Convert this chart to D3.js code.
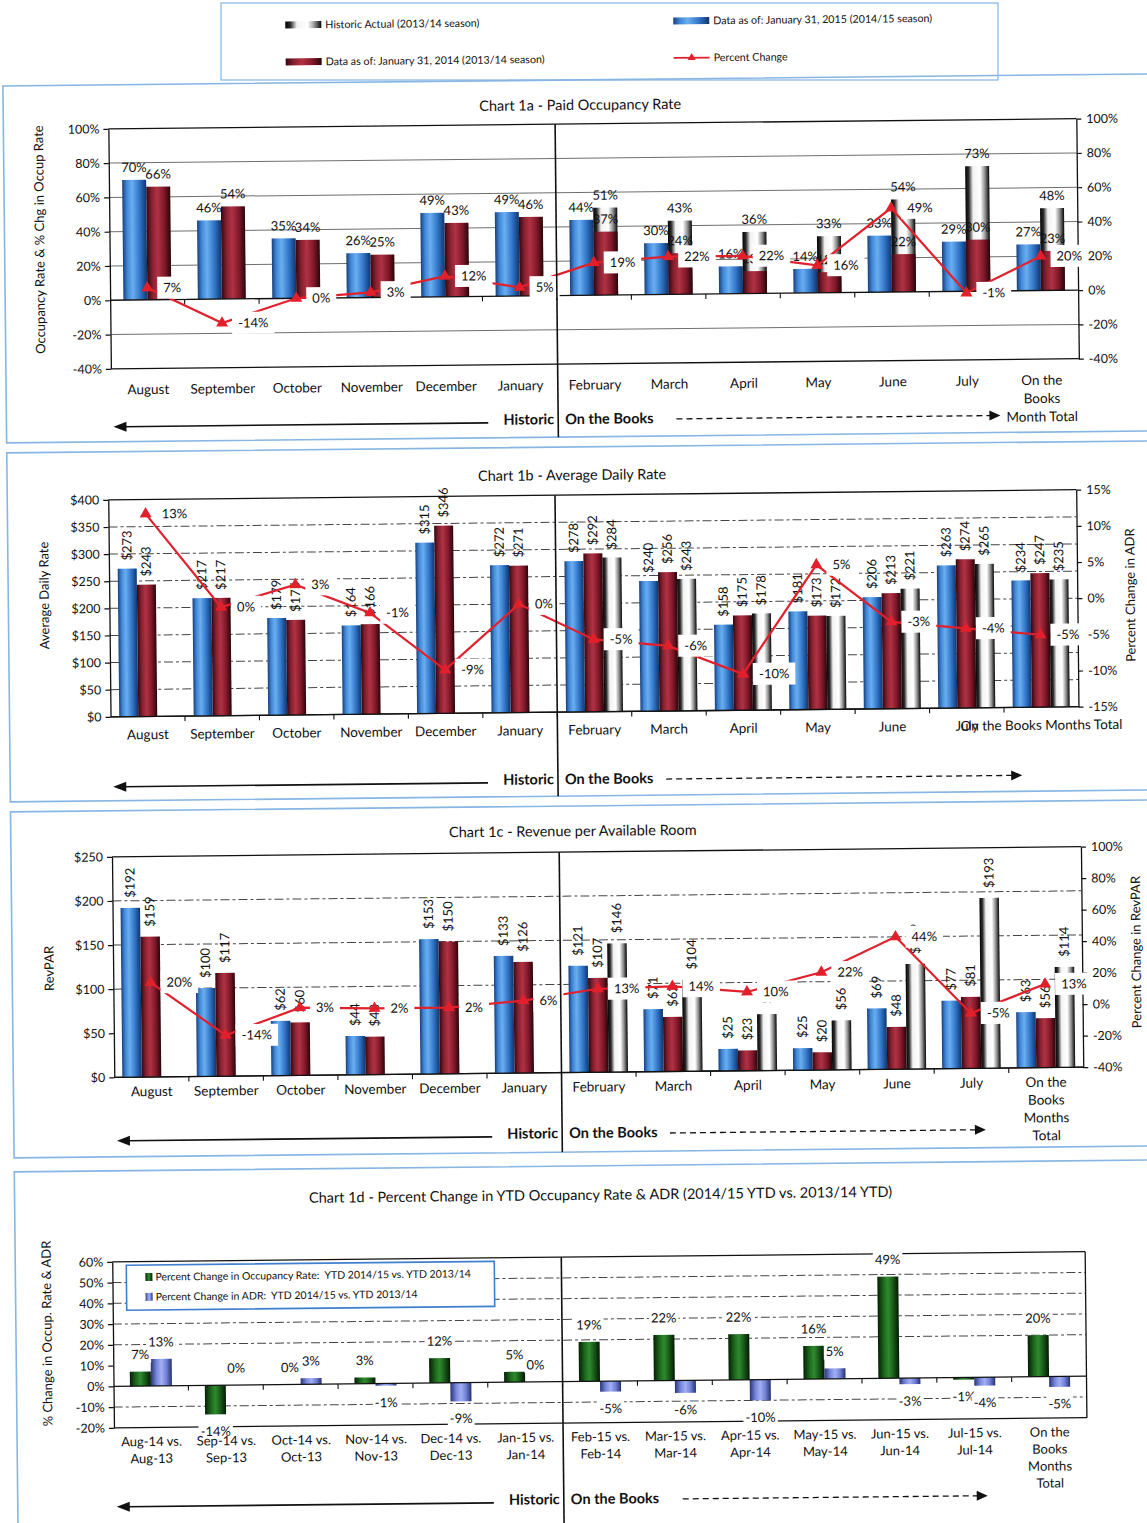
<!DOCTYPE html>
<html>
<head>
<meta charset="utf-8">
<script src="https://cdn.jsdelivr.net/npm/d3@7"></script>
<style>
  html, body { margin: 0; padding: 0; background: #fff; }
  svg { display: block; }
</style>
</head>
<body>
<svg id="chart" width="1147" height="1523"></svg>
<script>
// ---------------- data ----------------
const months = ["August", "September", "October", "November", "December", "January",
                "February", "March", "April", "May", "June", "July"];
const occLabels = [...months.map(m => [m]), ["On the", "Books", "Month Total"]];
const adrLabels = [...months.map(m => [m]), ["On the Books Months Total"]];
const revLabels = [...months.map(m => [m]), ["On the", "Books", "Months", "Total"]];
const ytdLabels = [["Aug-14 vs.", "Aug-13"], ["Sep-14 vs.", "Sep-13"], ["Oct-14 vs.", "Oct-13"],
                   ["Nov-14 vs.", "Nov-13"], ["Dec-14 vs.", "Dec-13"], ["Jan-15 vs.", "Jan-14"],
                   ["Feb-15 vs.", "Feb-14"], ["Mar-15 vs.", "Mar-14"], ["Apr-15 vs.", "Apr-14"],
                   ["May-15 vs.", "May-14"], ["Jun-15 vs.", "Jun-14"], ["Jul-15 vs.", "Jul-14"],
                   ["On the", "Books", "Months", "Total"]];

// Chart 1a - paid occupancy (%)
const occ2015 = [70, 46, 35, 26, 49, 49, 44, 30, 16, 14, 33, 29, 27];
const occ2014 = [66, 54, 34, 25, 43, 46, 37, 24, 13, 12, 22, 30, 23];
const occHist = [null, null, null, null, null, null, 51, 43, 36, 33, 54, 73, 48];
const occChg  = [7, -14, 0, 3, 12, 5, 19, 22, 22, 16, 49, -1, 20];

// Chart 1b - average daily rate ($)
const adr2015 = [273, 217, 179, 164, 315, 272, 278, 240, 158, 181, 206, 263, 234];
const adr2014 = [243, 217, 175, 166, 346, 271, 292, 256, 175, 173, 213, 274, 247];
const adrHist = [null, null, null, null, null, null, 284, 243, 178, 172, 221, 265, 235];
const adrChg  = [13, 0, 3, -1, -9, 0, -5, -6, -10, 5, -3, -4, -5];

// Chart 1c - revenue per available room ($)
const rev2015 = [192, 100, 62, 44, 153, 133, 121, 71, 25, 25, 69, 77, 63];
const rev2014 = [159, 117, 60, 43, 150, 126, 107, 62, 23, 20, 48, 81, 56];
const revHist = [null, null, null, null, null, null, 146, 104, 64, 56, 119, 193, 114];
const revChg  = [20, -14, 3, 2, 2, 6, 13, 14, 10, 22, 44, -5, 13];

// Chart 1d - YTD percent change
const ytdOccChg = [7, -14, 0, 3, 12, 5, 19, 22, 22, 16, 49, -1, 20];
const ytdAdrChg = [13, 0, 3, -1, -9, 0, -5, -6, -10, 5, -3, -4, -5];

// axis ticks
const occTicks    = [-40, -20, 0, 20, 40, 60, 80, 100];
const adrTicks    = [0, 50, 100, 150, 200, 250, 300, 350, 400];
const adrPctTicks = [-15, -10, -5, 0, 5, 10, 15];
const revTicks    = [0, 50, 100, 150, 200, 250];
const revPctTicks = [-40, -20, 0, 20, 40, 60, 80, 100];
const ytdTicks    = [-20, -10, 0, 10, 20, 30, 40, 50, 60];

// text
const legendLabels = ["Historic Actual (2013/14 season)",
                      "Data as of: January 31, 2015 (2014/15 season)",
                      "Data as of: January 31, 2014 (2013/14 season)",
                      "Percent Change"];
const ytdLegendLabels = ["Percent Change in Occupancy Rate:  YTD 2014/15 vs. YTD 2013/14",
                         "Percent Change in ADR:  YTD 2014/15 vs. YTD 2013/14"];
const chartTitles = ["Chart 1a - Paid Occupancy Rate",
                     "Chart 1b - Average Daily Rate",
                     "Chart 1c - Revenue per Available Room",
                     "Chart 1d - Percent Change in YTD Occupancy Rate & ADR (2014/15 YTD vs. 2013/14 YTD)"];
const sectionLabels = ["Historic", "On the Books"];

// ---------------- setup ----------------
const FONT = "Lato, 'Open Sans', 'DejaVu Sans', sans-serif";
const INK = "#111";
const RED = "#e1202b";
const pct = d => d + "%";
const usd = d => "$" + d;

const svg = d3.select("#chart").attr("font-family", FONT);
svg.append("rect").attr("width", 1147).attr("height", 1523).attr("fill", "#fff");

const defs = svg.append("defs");
function hGrad(id, stops) {
  const g = defs.append("linearGradient").attr("id", id)
    .attr("x1", "0%").attr("x2", "100%").attr("y1", "0%").attr("y2", "0%");
  stops.forEach(([o, c]) => g.append("stop").attr("offset", o).attr("stop-color", c));
}
hGrad("gBlue",   [[0, "#173f7c"], [0.18, "#3f86d6"], [0.4, "#6aaef0"], [0.72, "#2f73c6"], [1, "#12356b"]]);
hGrad("gRed",    [[0, "#330710"], [0.22, "#86202f"], [0.45, "#b03244"], [0.75, "#7d1828"], [1, "#290508"]]);
hGrad("gWhite",  [[0, "#050505"], [0.14, "#2a2a2a"], [0.32, "#f2f2f2"], [0.62, "#ffffff"], [0.82, "#8c8c8c"], [1, "#050505"]]);
hGrad("gGreen",  [[0, "#041f04"], [0.28, "#1c661c"], [0.5, "#2f8a2f"], [0.75, "#185618"], [1, "#031903"]]);
hGrad("gPurple", [[0, "#2a3478"], [0.28, "#7888dc"], [0.5, "#a2aff4"], [0.75, "#6f7fd4"], [1, "#26306e"]]);

// legend frame sits level on the page
svg.append("rect").attr("x", 221).attr("y", 3).attr("width", 777).attr("height", 77)
  .attr("fill", "none").attr("stroke", "#8dbbe6").attr("stroke-width", 1.3);

// everything else is drawn slightly tilted, like the printed page
const root = svg.append("g").attr("transform", "rotate(-0.6 573 760)");

// panel frames
[[80, 437], [447, 796], [806, 1152], [1166, 1560]].forEach(([a, b]) => {
  root.append("rect").attr("x", 10).attr("y", a).attr("width", 1170).attr("height", b - a)
    .attr("fill", "none").attr("stroke", "#86b6e4").attr("stroke-width", 1.6);
});

// top legend
(function legend() {
  const g = root.append("g").attr("font-size", 10.7).attr("fill", INK);
  const items = [
    { grad: "gWhite", x: 293, y: 22, label: legendLabels[0] },
    { grad: "gBlue",  x: 681, y: 22, label: legendLabels[1] },
    { grad: "gRed",   x: 293, y: 59, label: legendLabels[2] },
    { grad: null,     x: 681, y: 59, label: legendLabels[3] }
  ];
  items.forEach(it => {
    if (it.grad) {
      g.append("rect").attr("x", it.x).attr("y", it.y - 3.5).attr("width", 36).attr("height", 7)
        .attr("fill", `url(#${it.grad})`);
    } else {
      g.append("line").attr("x1", it.x).attr("x2", it.x + 36).attr("y1", it.y).attr("y2", it.y)
        .attr("stroke", RED).attr("stroke-width", 1.8);
      g.append("path").attr("d", d3.symbol(d3.symbolTriangle, 28))
        .attr("transform", `translate(${it.x + 18},${it.y})`).attr("fill", RED);
    }
    g.append("text").attr("x", it.x + 40).attr("y", it.y).attr("dy", "0.35em").text(it.label);
  });
})();

// shared bottom annotation: Historic <---- | On the Books - - - ->
function sectionRow(g, o, divX) {
  const ay = o.arrowY;
  g.append("text").attr("x", divX - 4).attr("y", ay).attr("dy", "0.35em")
    .attr("text-anchor", "end").attr("font-size", 14.5).attr("font-weight", 700).attr("fill", INK)
    .text(sectionLabels[0]);
  g.append("text").attr("x", divX + 7).attr("y", ay).attr("dy", "0.35em")
    .attr("font-size", 14.5).attr("font-weight", 700).attr("fill", INK)
    .text(sectionLabels[1]);
  const sx = o.x0 + 2, ex = divX - 70, sy = ay + 3;
  g.append("line").attr("x1", sx + 10).attr("x2", ex).attr("y1", sy).attr("y2", sy)
    .attr("stroke", "#111").attr("stroke-width", 1.6);
  g.append("path").attr("d", `M${sx},${sy} L${sx + 13},${sy - 5} L${sx + 13},${sy + 5} Z`).attr("fill", "#111");
  const dx0 = o.dashX0, dx1 = o.dashX1, dy = ay + 1;
  g.append("line").attr("x1", dx0).attr("x2", dx1 - 10).attr("y1", dy).attr("y2", dy)
    .attr("stroke", "#111").attr("stroke-width", 1.3).attr("stroke-dasharray", "6,4");
  g.append("path").attr("d", `M${dx1},${dy} L${dx1 - 11},${dy - 5} L${dx1 - 11},${dy + 5} Z`).attr("fill", "#111");
}

function yTitle(g, x, y, text) {
  g.append("text").attr("transform", `translate(${x},${y}) rotate(-90)`)
    .attr("text-anchor", "middle").attr("dy", "0.35em")
    .attr("font-size", 13).attr("fill", INK).text(text);
}

function styleAxis(sel, size) {
  sel.attr("font-family", FONT).attr("font-size", size);
  sel.selectAll("text").attr("fill", INK);
  sel.selectAll("line").attr("stroke", "#111").attr("stroke-width", 1.2);
  sel.select(".domain").attr("stroke", "#111").attr("stroke-width", 1.3);
}

// ---------------- combined bar + percent-change chart ----------------
function comboChart(o) {
  const g = root.append("g");
  const n = o.labels.length;
  const x = d3.scaleBand().domain(d3.range(n)).range([o.x0, o.x1]);
  const cx = i => x(i) + x.bandwidth() / 2;
  const yL = d3.scaleLinear().domain(o.leftDomain).range([o.bottom, o.top]);
  const yR = d3.scaleLinear().domain(o.rightDomain).range([o.bottom, o.top]);
  const axisY = yL(0);
  const divX = x(6);

  g.append("text").attr("x", o.titleX).attr("y", o.titleY).attr("dy", "0.35em")
    .attr("text-anchor", "middle").attr("font-size", 14.5).attr("fill", INK).text(o.title);

  // gridlines
  g.append("g").selectAll("line").data(o.grid).join("line")
    .attr("x1", o.x0).attr("x2", o.x1)
    .attr("y1", d => yL(d)).attr("y2", d => yL(d))
    .attr("stroke", o.gridDash ? "#444" : "#6f6f6f").attr("stroke-width", 1)
    .attr("stroke-dasharray", o.gridDash || null);

  // plot frame
  const fr = g.append("g").attr("stroke", "#111").attr("stroke-width", 1.3);
  fr.append("line").attr("x1", o.x0).attr("x2", o.x1).attr("y1", o.top).attr("y2", o.top);
  fr.append("line").attr("x1", o.x0).attr("x2", o.x1).attr("y1", o.bottom).attr("y2", o.bottom);

  // bars (historic behind, then 2013/14, then 2014/15)
  o.series.forEach(s => {
    g.append("g").selectAll("rect")
      .data(s.values.map((v, i) => ({ v, i })).filter(d => d.v != null))
      .join("rect")
      .attr("x", d => cx(d.i) + s.offset)
      .attr("width", o.barW)
      .attr("y", d => Math.min(yL(d.v), axisY))
      .attr("height", d => Math.abs(yL(d.v) - axisY))
      .attr("fill", `url(#${s.grad})`);
  });

  // category axis line with boundary ticks
  g.append("line").attr("x1", o.x0).attr("x2", o.x1).attr("y1", axisY).attr("y2", axisY)
    .attr("stroke", "#111").attr("stroke-width", 1.3);
  g.append("g").selectAll("line").data(d3.range(1, n)).join("line")
    .attr("x1", i => x(i)).attr("x2", i => x(i)).attr("y1", axisY).attr("y2", axisY + 5)
    .attr("stroke", "#111").attr("stroke-width", 1.1);

  // value axes
  styleAxis(g.append("g").attr("transform", `translate(${o.x0},0)`)
    .call(d3.axisLeft(yL).tickValues(o.leftTicks).tickFormat(o.leftFmt)
      .tickSize(5).tickSizeOuter(0).tickPadding(4)), 12.5);
  styleAxis(g.append("g").attr("transform", `translate(${o.x1},0)`)
    .call(d3.axisRight(yR).tickValues(o.rightTicks).tickFormat(pct)
      .tickSize(5).tickSizeOuter(0).tickPadding(5)), 12.5);

  // value labels
  o.series.forEach(s => {
    const pts = s.values.map((v, i) => ({ v, i })).filter(d => d.v != null);
    const t = g.append("g").attr("font-size", 13).attr("fill", INK)
      .selectAll("text").data(pts).join("text").text(d => o.valueFmt(d.v));
    if (o.vertical) {
      t.attr("transform", d =>
        `translate(${cx(d.i) + s.offset + o.barW / 2 + 4.5},${yL(d.v) - o.labelGap}) rotate(-90)`);
    } else {
      t.attr("x", d => cx(d.i) + s.offset + o.barW / 2)
        .attr("y", d => yL(d.v) - 8).attr("text-anchor", "middle");
    }
  });

  // percent change line
  const line = d3.line().x((d, i) => cx(i)).y(d => yR(d));
  g.append("path").datum(o.change).attr("d", line)
    .attr("fill", "none").attr("stroke", RED).attr("stroke-width", 2.2);
  g.append("g").selectAll("path").data(o.change).join("path")
    .attr("d", d3.symbol(d3.symbolTriangle, 62))
    .attr("transform", (d, i) => `translate(${cx(i)},${yR(d)})`)
    .attr("fill", RED);

  // percent change labels on white boxes
  const lab = g.append("g").attr("font-size", 13).attr("fill", INK);
  o.change.forEach((d, i) => {
    const lg = lab.append("g");
    const r = lg.append("rect").attr("fill", "#fff");
    const t = lg.append("text").attr("x", cx(i) + 16).attr("y", yR(d)).attr("dy", "0.35em").text(pct(d));
    const w = t.node().getComputedTextLength();
    r.attr("x", cx(i) + 10).attr("y", yR(d) - 11).attr("width", w + 12).attr("height", 22);
  });

  // category labels
  const cl = g.append("g").attr("font-size", 13.5).attr("fill", INK).attr("text-anchor", "middle");
  o.labels.forEach((lines, i) => {
    const t = cl.append("text").attr("y", o.catY);
    lines.forEach((s, k) => t.append("tspan").attr("x", cx(i)).attr("dy", k ? o.catLH : "0.35em").text(s));
  });

  // historic / on-the-books divider
  g.append("line").attr("x1", divX).attr("x2", divX).attr("y1", o.top).attr("y2", o.divBottom)
    .attr("stroke", "#111").attr("stroke-width", 1.6);
  sectionRow(g, o, divX);

  yTitle(g, o.yTitle[0], o.yTitle[1], o.yTitle[2]);
  if (o.rTitle) yTitle(g, o.rTitle[0], o.rTitle[1], o.rTitle[2]);
}

// Chart 1a
comboChart({
  title: chartTitles[0], titleX: 587, titleY: 105,
  labels: occLabels, x0: 115, x1: 1083, top: 124, bottom: 364,
  leftDomain: [-40, 100], rightDomain: [-40, 100],
  leftTicks: occTicks, rightTicks: occTicks, leftFmt: pct,
  grid: [80, 60, 40, 20, -20], gridDash: null,
  barW: 24,
  series: [
    { values: occHist, grad: "gWhite", offset: 0 },
    { values: occ2014, grad: "gRed", offset: 0 },
    { values: occ2015, grad: "gBlue", offset: -24 }
  ],
  vertical: false, valueFmt: pct,
  change: occChg,
  catY: 385, catLH: 18.3,
  divBottom: 437, arrowY: 419, dashX0: 680, dashX1: 1004,
  yTitle: [45, 234, "Occupancy Rate & % Chg in Occup Rate"]
});

// Chart 1b
comboChart({
  title: chartTitles[1], titleX: 575, titleY: 475,
  labels: adrLabels, x0: 111, x1: 1079, top: 495, bottom: 712,
  leftDomain: [0, 400], rightDomain: [-15, 15],
  leftTicks: adrTicks, rightTicks: adrPctTicks, leftFmt: usd,
  grid: [50, 100, 150, 200, 250, 300, 350], gridDash: "9,3,3,3",
  barW: 19,
  series: [
    { values: adrHist, grad: "gWhite", offset: 9.5 },
    { values: adr2014, grad: "gRed", offset: -9.5 },
    { values: adr2015, grad: "gBlue", offset: -28.5 }
  ],
  vertical: true, labelGap: 8, valueFmt: usd,
  change: adrChg,
  catY: 730, catLH: 18,
  divBottom: 796, arrowY: 779, dashX0: 666, dashX1: 1022,
  yTitle: [46, 590, "Average Daily Rate"],
  rTitle: [1132, 601, "Percent Change in ADR"]
});

// Chart 1c
comboChart({
  title: chartTitles[2], titleX: 572, titleY: 831,
  labels: revLabels, x0: 111, x1: 1080, top: 852, bottom: 1072.5,
  leftDomain: [0, 250], rightDomain: [-40, 100],
  leftTicks: revTicks, rightTicks: revPctTicks, leftFmt: usd,
  grid: [100, 150, 200], gridDash: "9,3,3,3",
  barW: 19.5,
  series: [
    { values: revHist, grad: "gWhite", offset: 9.75 },
    { values: rev2014, grad: "gRed", offset: -9.75 },
    { values: rev2015, grad: "gBlue", offset: -29.25 }
  ],
  vertical: true, labelGap: 10, valueFmt: usd,
  change: revChg,
  catY: 1087, catLH: 17.8,
  divBottom: 1152, arrowY: 1133, dashX0: 666, dashX1: 982,
  yTitle: [47, 963, "RevPAR"],
  rTitle: [1134, 958, "Percent Change in RevPAR"]
});

// ---------------- Chart 1d: YTD percent change bars ----------------
(function ytdChart() {
  const o = {
    x0: 107, x1: 1080, top: 1257, bottom: 1423,
    catY: 1437, catLH: 17, arrowY: 1499, dashX0: 675, dashX1: 980
  };
  const g = root.append("g");
  const n = ytdLabels.length;
  const x = d3.scaleBand().domain(d3.range(n)).range([o.x0, o.x1]);
  const cx = i => x(i) + x.bandwidth() / 2;
  const y = d3.scaleLinear().domain([-20, 60]).range([o.bottom, o.top]);
  const y0 = y(0);
  const divX = x(6);
  const barW = 21;

  g.append("text").attr("x", 596).attr("y", 1195).attr("dy", "0.35em")
    .attr("text-anchor", "middle").attr("font-size", 14.5).attr("fill", INK).text(chartTitles[3]);

  g.append("g").selectAll("line").data([50, 40, 30, 20, -10]).join("line")
    .attr("x1", o.x0).attr("x2", o.x1).attr("y1", d => y(d)).attr("y2", d => y(d))
    .attr("stroke", "#444").attr("stroke-width", 1).attr("stroke-dasharray", "9,3,3,3");

  const fr = g.append("g").attr("stroke", "#111").attr("stroke-width", 1.3);
  fr.append("line").attr("x1", o.x0).attr("x2", o.x1).attr("y1", o.top).attr("y2", o.top);
  fr.append("line").attr("x1", o.x0).attr("x2", o.x1).attr("y1", o.bottom).attr("y2", o.bottom);
  fr.append("line").attr("x1", o.x1).attr("x2", o.x1).attr("y1", o.top).attr("y2", o.bottom);

  const series = [
    { values: ytdOccChg, grad: "gGreen", offset: -barW },
    { values: ytdAdrChg, grad: "gPurple", offset: 0 }
  ];
  series.forEach(s => {
    g.append("g").selectAll("rect").data(s.values.map((v, i) => ({ v, i }))).join("rect")
      .attr("x", d => cx(d.i) + s.offset).attr("width", barW)
      .attr("y", d => Math.min(y(d.v), y0)).attr("height", d => Math.abs(y(d.v) - y0))
      .attr("fill", `url(#${s.grad})`);
  });

  g.append("line").attr("x1", o.x0).attr("x2", o.x1).attr("y1", y0).attr("y2", y0)
    .attr("stroke", "#111").attr("stroke-width", 1.3);
  g.append("g").selectAll("line").data(d3.range(1, n)).join("line")
    .attr("x1", i => x(i)).attr("x2", i => x(i)).attr("y1", y0).attr("y2", y0 + 5)
    .attr("stroke", "#111").attr("stroke-width", 1.1);

  styleAxis(g.append("g").attr("transform", `translate(${o.x0},0)`)
    .call(d3.axisLeft(y).tickValues(ytdTicks).tickFormat(pct)
      .tickSize(5).tickSizeOuter(0).tickPadding(4)), 12.5);

  // value labels on white boxes
  const lab = g.append("g").attr("font-size", 13).attr("fill", INK);
  series.forEach(s => {
    s.values.forEach((v, i) => {
      const lx = cx(i) + s.offset + barW / 2;
      const ly = v >= 0 ? y(v) - 17 : y(v) + 17;
      const lg = lab.append("g");
      const r = lg.append("rect").attr("fill", "#fff");
      const t = lg.append("text").attr("x", lx).attr("y", ly).attr("dy", "0.35em")
        .attr("text-anchor", "middle").text(pct(v));
      const w = t.node().getComputedTextLength();
      r.attr("x", lx - w / 2 - 2).attr("y", ly - 8).attr("width", w + 4).attr("height", 16);
    });
  });

  // legend inside the plot
  const lgd = g.append("g");
  lgd.append("rect").attr("x", 121).attr("y", 1260.5).attr("width", 368).attr("height", 45)
    .attr("fill", "#fff").attr("stroke", "#3f7fd0").attr("stroke-width", 1.6);
  [["gGreen", 1272.5], ["gPurple", 1292.4]].forEach(([gr, ly], k) => {
    lgd.append("rect").attr("x", 140).attr("y", ly - 4).attr("width", 7).attr("height", 8)
      .attr("fill", `url(#${gr})`);
    lgd.append("text").attr("x", 150).attr("y", ly).attr("dy", "0.35em")
      .attr("font-size", 10.5).attr("fill", INK).style("white-space", "pre").text(ytdLegendLabels[k]);
  });

  const cl = g.append("g").attr("font-size", 13).attr("fill", INK).attr("text-anchor", "middle");
  ytdLabels.forEach((lines, i) => {
    const t = cl.append("text").attr("y", o.catY);
    lines.forEach((s, k) => t.append("tspan").attr("x", cx(i)).attr("dy", k ? o.catLH : "0.35em").text(s));
  });

  g.append("line").attr("x1", divX).attr("x2", divX).attr("y1", o.top).attr("y2", 1560)
    .attr("stroke", "#111").attr("stroke-width", 1.6);
  sectionRow(g, o, divX);
  yTitle(g, 41, 1328, "% Change in Occup. Rate & ADR");
})();
</script>
</body>
</html>
